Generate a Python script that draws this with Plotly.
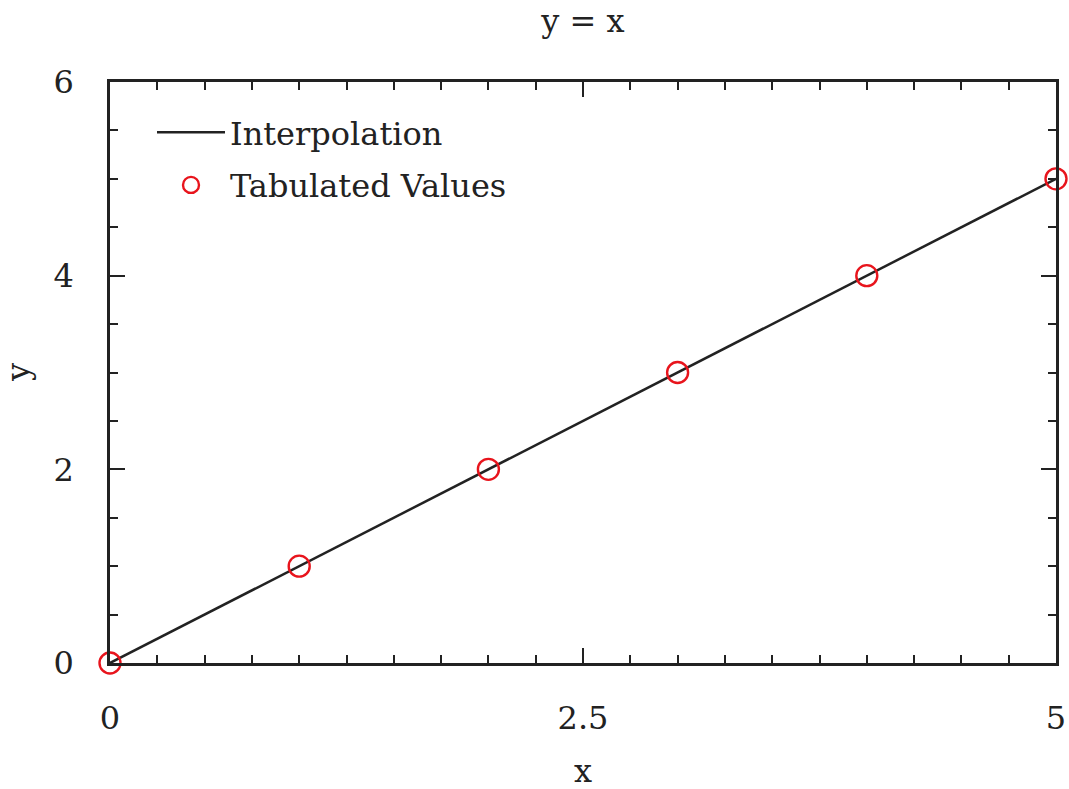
import plotly.graph_objects as go

x_line = [0, 5]
y_line = [0, 5]
x_tab = [0, 1, 2, 3, 4, 5]
y_tab = [0, 1, 2, 3, 4, 5]
x_ticks = [0, 2.5, 5]
x_ticklabels = ["0", "2.5", "5"]
y_ticks = [0, 2, 4, 6]
y_ticklabels = ["0", "2", "4", "6"]

FONT = "DejaVu Serif"
INK = "#222222"
RED = "#e8141c"
FS = 32

fig = go.Figure()
fig.add_trace(go.Scatter(x=x_line, y=y_line, mode="lines", name="Interpolation",
                         legendgroup="a", line=dict(color=INK, width=2.5)))
fig.add_trace(go.Scatter(x=x_tab, y=y_tab, mode="markers", name="Tabulated Values",
                         legendgroup="b",
                         marker=dict(symbol="circle-open", size=21, color=RED,
                                     line=dict(width=2.4, color=RED)),
                         cliponaxis=False))

axis_common = dict(showgrid=False, zeroline=False, showline=True, linecolor=INK, linewidth=2.5,
                   mirror="allticks", ticks="inside", ticklen=15, tickwidth=2, tickcolor=INK,
                   automargin=False,
                   tickfont=dict(family=FONT, size=FS, color=INK))
fig.update_xaxes(range=[0, 5], tickvals=x_ticks, ticktext=x_ticklabels, ticklabelstandoff=25,
                 minor=dict(dtick=0.25, ticks="inside", ticklen=8, tickwidth=2, tickcolor=INK, showgrid=False),
                 **axis_common)
fig.update_yaxes(range=[0, 6], tickvals=y_ticks, ticktext=y_ticklabels, ticklabelstandoff=27,
                 minor=dict(dtick=0.5, ticks="inside", ticklen=8, tickwidth=2, tickcolor=INK, showgrid=False),
                 **axis_common)

fig.add_annotation(text="x", xref="paper", yref="paper", x=0.5, y=-(771 - 663) / 581,
                   xanchor="center", yanchor="middle", showarrow=False,
                   font=dict(family=FONT, size=FS, color=INK))
fig.add_annotation(text="y", xref="paper", yref="paper", x=-(110 - 18) / 946, y=(663 - 373) / 581,
                   xanchor="center", yanchor="middle", showarrow=False, textangle=-90,
                   font=dict(family=FONT, size=FS, color=INK))

fig.update_layout(
    width=1069, height=789,
    margin=dict(l=110, r=13, t=82, b=126),
    paper_bgcolor="white", plot_bgcolor="white",
    title=dict(text="y = x", x=583 / 1069, xanchor="center", y=1 - 21 / 789, yanchor="middle",
               font=dict(family=FONT, size=FS, color=INK)),
    legend=dict(x=(152 - 110) / 946, y=(663 - 105) / 581, xanchor="left", yanchor="top",
                bgcolor="rgba(0,0,0,0)", borderwidth=0,
                font=dict(family=FONT, size=FS, color=INK), itemwidth=68,
                traceorder="grouped", tracegroupgap=8),
    showlegend=True,
)

fig.write_html("out.html", config={"displayModeBar": False},
               post_script="document.body.style.margin='0';")
